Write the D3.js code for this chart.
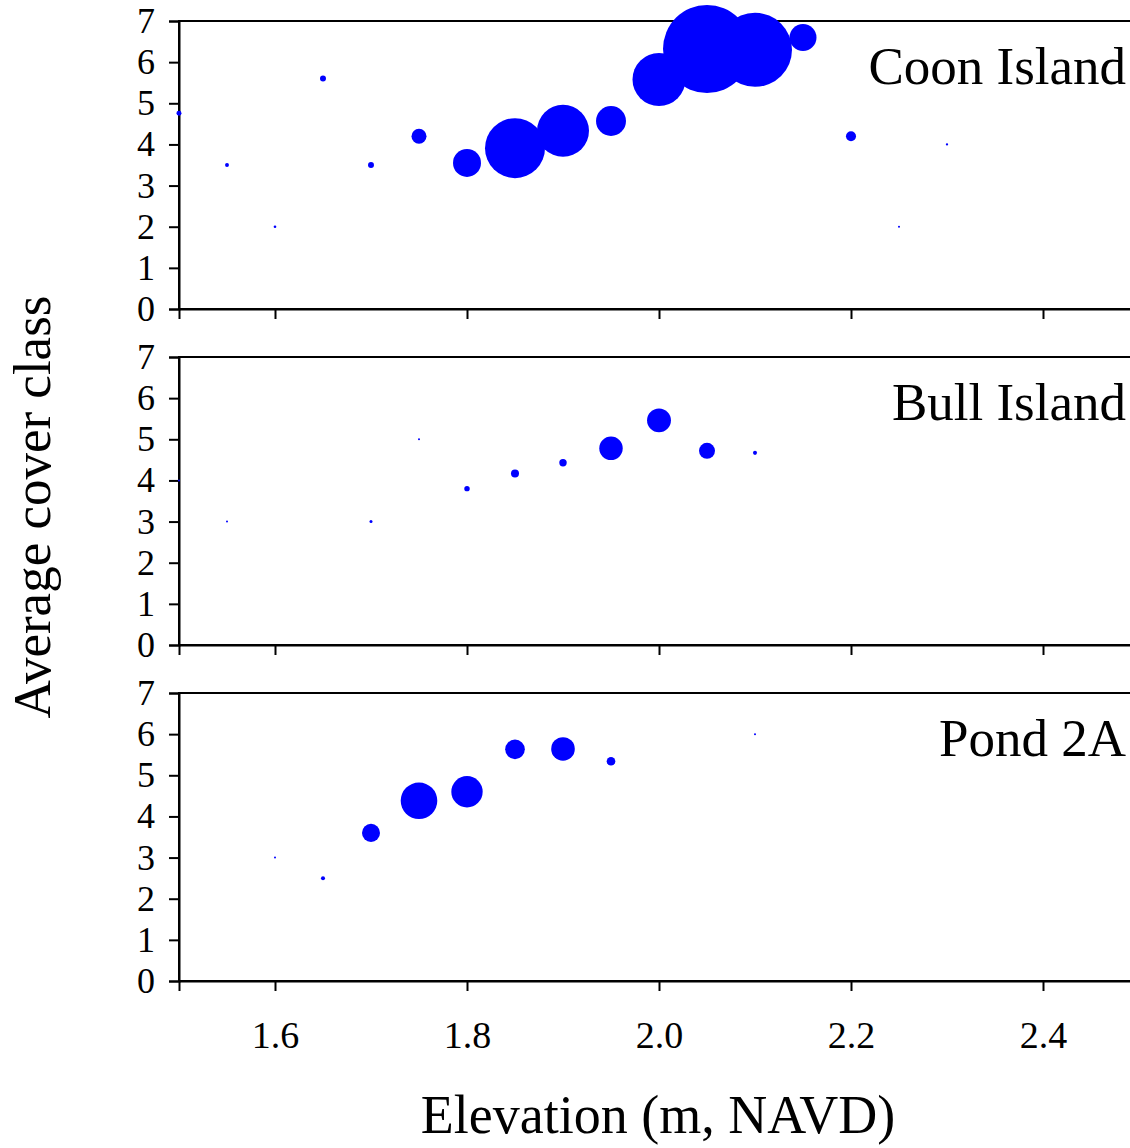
<!DOCTYPE html>
<html>
<head>
<meta charset="utf-8">
<script src="https://cdn.jsdelivr.net/npm/d3@7"></script>
<style>
  body { margin: 0; background: #fff; }
  svg { display: block; font-family: "Liberation Serif", "DejaVu Serif", serif; }
</style>
</head>
<body>
<div id="chart"></div>
<script>
// elevation classes (m, NAVD) and average cover class per site, plus relative weight (bubble size)
const sites = ["Coon Island", "Bull Island", "Pond 2A"];

const coonElev   = [1.5, 1.55, 1.6, 1.65, 1.7, 1.75, 1.8, 1.85, 1.9, 1.95, 2.0, 2.05, 2.1, 2.15, 2.2, 2.25, 2.3];
const coonCover  = [4.76, 3.5, 2.0, 5.6, 3.5, 4.2, 3.55, 3.91, 4.33, 4.57, 5.58, 6.32, 6.3, 6.6, 4.2, 2.0, 4.0];
const coonWeight = [0.32, 0.2, 0.09, 0.46, 0.46, 2.9, 10.1, 46.5, 34.9, 11.6, 36.3, 100, 70.7, 9.4, 1.3, 0.05, 0.07];

const bullElev   = [1.5, 1.55, 1.7, 1.75, 1.8, 1.85, 1.9, 1.95, 2.0, 2.05, 2.1];
const bullCover  = [4.0, 3.0, 3.0, 5.0, 3.8, 4.17, 4.43, 4.78, 5.46, 4.72, 4.67];
const bullWeight = [0.05, 0.05, 0.12, 0.05, 0.38, 0.83, 0.71, 7.1, 7.4, 3.3, 0.21];

const pondElev   = [1.6, 1.65, 1.7, 1.75, 1.8, 1.85, 1.9, 1.95, 2.1];
const pondCover  = [3.0, 2.5, 3.6, 4.38, 4.6, 5.63, 5.64, 5.34, 6.0];
const pondWeight = [0.05, 0.21, 4.2, 17.3, 12.7, 5.0, 7.2, 0.96, 0.05];

const xTicks = [1.6, 1.8, 2.0, 2.2, 2.4];
const yTicks = [0, 1, 2, 3, 4, 5, 6, 7];

const panels = [
  { name: sites[0], elev: coonElev, cover: coonCover, weight: coonWeight },
  { name: sites[1], elev: bullElev, cover: bullCover, weight: bullWeight },
  { name: sites[2], elev: pondElev, cover: pondCover, weight: pondWeight }
];

const width = 1130, height = 1148;
const left = 179, right = 1139;
const panelTops = [21, 357, 693];
const panelH = 288;

const svg = d3.select("#chart").append("svg")
  .attr("width", width)
  .attr("height", height);

const x = d3.scaleLinear().domain([1.5, 2.5]).range([left, right]);
const r = d3.scaleSqrt().domain([0, 100]).range([0, 44]);

panels.forEach((p, i) => {
  const top = panelTops[i];
  const y = d3.scaleLinear().domain([0, 7]).range([top + panelH, top]);
  const g = svg.append("g");

  // frame
  g.append("rect")
    .attr("x", left).attr("y", top)
    .attr("width", right - left).attr("height", panelH)
    .attr("fill", "none").attr("stroke", "#000").attr("stroke-width", 2);

  const yAxis = g.append("g")
    .attr("transform", `translate(${left},0)`)
    .call(d3.axisLeft(y).tickValues(yTicks).tickSize(10).tickPadding(14).tickFormat(d3.format("d")));
  yAxis.select(".domain").attr("stroke-width", 2);
  yAxis.selectAll(".tick line").attr("stroke-width", 2);
  yAxis.selectAll("text").attr("font-size", 36).attr("font-family", "Liberation Serif").attr("fill", "#000");

  const xAxis = g.append("g")
    .attr("transform", `translate(0,${top + panelH})`)
    .call(d3.axisBottom(x).tickValues(xTicks).tickSize(10).tickPadding(30)
      .tickFormat(i === 2 ? d3.format(".1f") : () => ""));
  xAxis.select(".domain").attr("stroke-width", 2);
  xAxis.selectAll(".tick line").attr("stroke-width", 2);
  xAxis.selectAll("text").attr("font-size", 38).attr("font-family", "Liberation Serif").attr("fill", "#000");

  const pts = p.elev.map((e, k) => ({ e, c: p.cover[k], w: p.weight[k] }));
  g.selectAll("circle.pt")
    .data(pts)
    .enter()
    .append("circle")
    .attr("class", "pt")
    .attr("cx", d => x(d.e))
    .attr("cy", d => y(d.c))
    .attr("r", d => Math.max(r(d.w), 1))
    .attr("fill", "#0000ff");

  g.append("text")
    .attr("x", 1126)
    .attr("y", top + 63)
    .attr("text-anchor", "end")
    .attr("font-size", 53)
    .text(p.name);
});

svg.append("text")
  .attr("x", 658)
  .attr("y", 1133)
  .attr("text-anchor", "middle")
  .attr("font-size", 54)
  .text("Elevation (m, NAVD)");

svg.append("text")
  .attr("transform", "translate(50,507) rotate(-90)")
  .attr("text-anchor", "middle")
  .attr("font-size", 53)
  .text("Average cover class");
</script>
</body>
</html>
